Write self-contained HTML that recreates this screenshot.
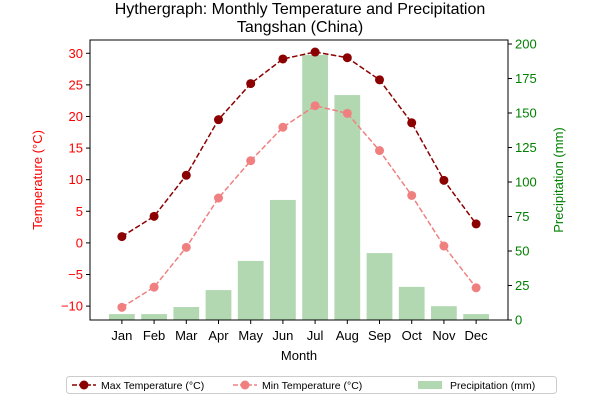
<!DOCTYPE html>
<html><head><meta charset="utf-8"><style>
body{margin:0;background:#fff;font-family:"Liberation Sans",sans-serif}
svg text{font-family:"Liberation Sans",sans-serif}
</style></head><body>
<svg id="c" width="600" height="400" xmlns="http://www.w3.org/2000/svg"></svg>
<script>
const months=["Jan","Feb","Mar","Apr","May","Jun","Jul","Aug","Sep","Oct","Nov","Dec"];
const maxTemp=[1.0,4.2,10.7,19.5,25.2,29.1,30.2,29.3,25.8,19.0,9.9,3.0];
const minTemp=[-10.2,-7.0,-0.7,7.1,13.0,18.3,21.7,20.5,14.6,7.5,-0.5,-7.1];
const precip=[4.3,4.3,9.4,21.7,42.8,87,192,163,48.5,24,10,4.3];
const tTicks=[-10,-5,0,5,10,15,20,25,30];
const pTicks=[0,25,50,75,100,125,150,175,200];
const L=90,R=508,T=40,B=320;
const xs=i=>L+(i+0.99)/12.98*(R-L);
const yT=v=>B-(v+12.2)/44.3*(B-T);
const yP=v=>B-v/202.9*(B-T);
const svg=document.getElementById('c');const NS='http://www.w3.org/2000/svg';
function el(tag,attrs,parent){const e=document.createElementNS(NS,tag);for(const k in attrs)e.setAttribute(k,attrs[k]);(parent||svg).appendChild(e);return e;}
function tx(x,y,s,attrs){const e=el('text',Object.assign({x:x,y:y,'font-size':13},attrs));e.textContent=s;return e;}
const bw=(R-L)/12.98*0.8;
precip.forEach((v,i)=>{const b=el('rect',{x:xs(i)-bw/2,y:yP(v),width:bw,height:B-yP(v),fill:'#b2d8b2'});

});
function line(arr,col,name){const p=el('polyline',{points:arr.map((v,i)=>xs(i)+','+yT(v)).join(' '),fill:'none',stroke:col,'stroke-width':1.5,'stroke-dasharray':'5.5,2.4'});


arr.forEach((v,i)=>{const c=el('circle',{cx:xs(i),cy:yT(v),r:4.5,fill:col});

});}
line(maxTemp,'#8b0000','max-temp');
line(minTemp,'#f08080','min-temp');
el('rect',{x:L,y:T,width:R-L,height:B-T,fill:'none',stroke:'#000','stroke-width':1});
tTicks.forEach(v=>{el('line',{x1:L-4,x2:L,y1:yT(v),y2:yT(v),stroke:'#000'});const t=tx(L-7,yT(v)+4.5,String(v).replace('-','−'),{'text-anchor':'end',fill:'red'});

});
pTicks.forEach(v=>{el('line',{x1:R,x2:R+4,y1:yP(v),y2:yP(v),stroke:'#000'});const t=tx(R+7,yP(v)+4.5,String(v),{fill:'green'});

});
months.forEach((m,i)=>{el('line',{x1:xs(i),x2:xs(i),y1:B,y2:B+4,stroke:'#000'});const t=tx(xs(i),B+20,m,{'text-anchor':'middle'});

});
</script>
<svg width="600" height="400" style="position:absolute;left:0;top:0" xmlns="http://www.w3.org/2000/svg">
<text x="300" y="14" font-size="16" text-anchor="middle">Hythergraph: Monthly Temperature and Precipitation</text>
<text x="300" y="32" font-size="16" text-anchor="middle">Tangshan (China)</text>
<text x="299" y="360" font-size="13" text-anchor="middle">Month</text>
<text transform="translate(42,180) rotate(-90)" font-size="13" fill="red" text-anchor="middle">Temperature (°C)</text>
<text transform="translate(563,180) rotate(-90)" font-size="13" fill="green" text-anchor="middle">Precipitation (mm)</text>
<g>
<rect x="66.5" y="376.5" width="490" height="17" rx="3" fill="#fff" stroke="#ccc"/>
<line x1="72" x2="96" y1="385" y2="385" stroke="#8b0000" stroke-width="1.5" stroke-dasharray="5,2"/><circle cx="84" cy="385" r="4.5" fill="#8b0000"/>
<text x="101" y="389" font-size="10.5">Max Temperature (°C)</text>
<line x1="233" x2="257" y1="385" y2="385" stroke="#f08080" stroke-width="1.5" stroke-dasharray="5,2"/><circle cx="245" cy="385" r="4.5" fill="#f08080"/>
<text x="262" y="389" font-size="10.5">Min Temperature (°C)</text>
<rect x="418" y="381" width="24" height="8" fill="#b2d8b2"/>
<text x="450" y="389" font-size="10.5">Precipitation (mm)</text>
</g>
</svg>
</body></html>
